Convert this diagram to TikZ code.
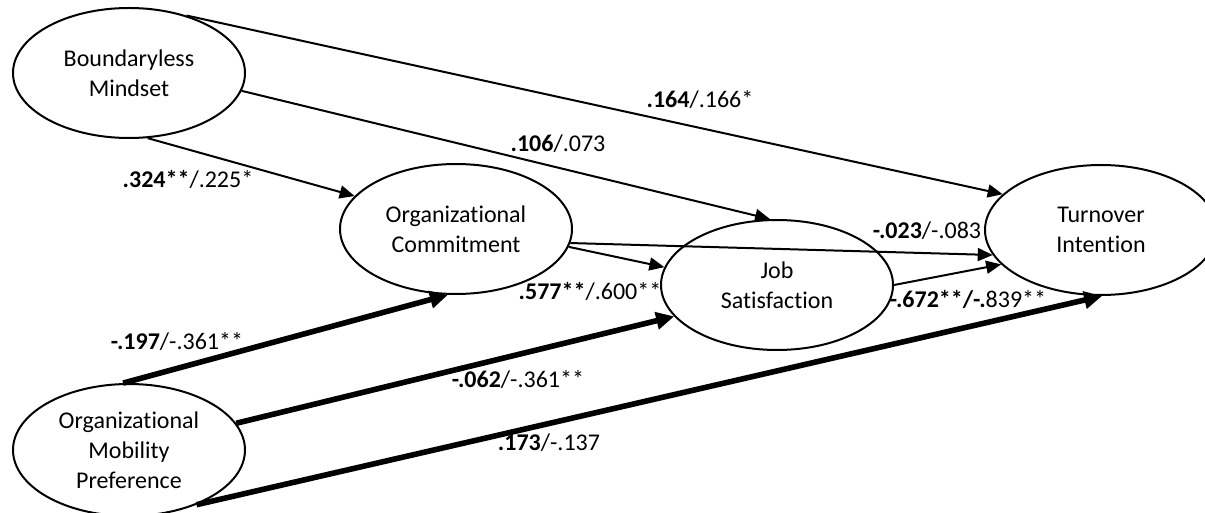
\documentclass[tikz,border=0pt]{standalone}
\usepackage{fontspec}
\setmainfont{Carlito}[Ligatures={NoCommon}]
\usetikzlibrary{arrows.meta,shapes.geometric}
\begin{document}
\begin{tikzpicture}[x=0.5pt,y=-0.5pt,
  construct/.style={ellipse,draw,line width=1pt,inner sep=0pt,
    minimum width=116pt,minimum height=65pt,align=center,
    font=\fontsize{12}{15}\selectfont},
  thinarrow/.style={line width=1pt,-{Triangle[length=7.5pt,width=6.5pt]}},
  thickarrow/.style={line width=2.8pt,-{Triangle[length=9pt,width=8.5pt]}},
  coef/.style={inner sep=0pt,font=\fontsize{12}{15}\selectfont}]
\useasboundingbox (0,0) rectangle (1205,513);
\clip (0,0) rectangle (1205,513);

% constructs
\node[construct] (bm)  at (129,73)  {Boundaryless\\Mindset};
\node[construct] (oc)  at (456,229) {Organizational\\Commitment};
\node[construct] (js)  at (777,285) {Job\\Satisfaction};
\node[construct] (ti)  at (1101,230) {Turnover\\Intention};
\node[construct,minimum height=66pt] (omp) at (129,450) {Organizational\\Mobility\\Preference};

% paths from boundaryless mindset and commitment
\draw[thinarrow] (bm.45)  -- (ti.160);
\draw[thinarrow] (bm.-9)  -- (js.96);
\draw[thinarrow] (bm.-74) -- (oc.162);
\draw[thinarrow] (oc.-9)  -- (js.171);
\draw[thinarrow] (oc.-7)  -- (ti.193);
\draw[thinarrow] (js.0)   -- (ti.199);

% paths from mobility preference
\draw[thickarrow] (omp.95)  -- (oc.-97);
\draw[thickarrow] (omp.14)  -- (js.-163);
\draw[thickarrow] (omp.-39) -- (ti.-89);

% path coefficients
\node[coef] (c1) at (188,179) {\textbf{.324**}/.225*};
\node[coef] (c2) at (700,99)  {\textbf{.164}/.166*};
\node[coef] (c3) at (558,144) {\textbf{.106}/.073};
\node[coef] (c4) at (927,231) {\textbf{-.023}/-.083};
\node[coef] (c5) at (968,299) {\textbf{-.672**/-.}839**};
\node[coef] (c6) at (590,291) {\textbf{.577**}/.600**};
\node[coef] (c7) at (177,341) {\textbf{-.197}/-.361**};
\node[coef] (c8) at (518,379) {\textbf{-.062}/-.361**};
\node[coef] (c9) at (549,443) {\textbf{.173}/-.137};
\end{tikzpicture}
\end{document}
